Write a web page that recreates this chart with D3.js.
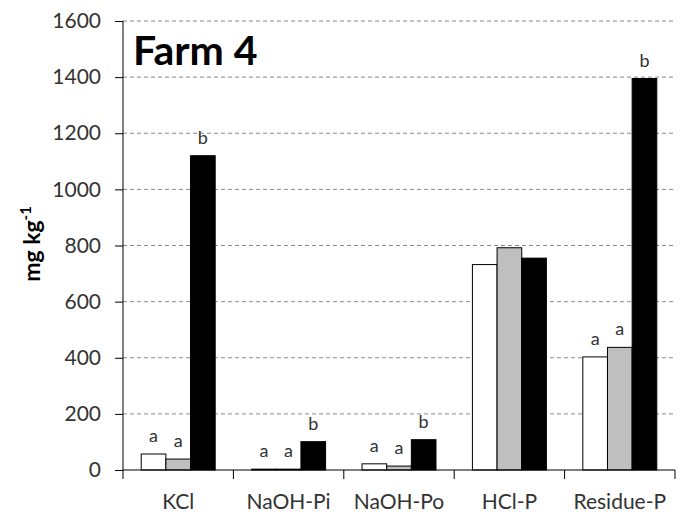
<!DOCTYPE html>
<html><head><meta charset="utf-8">
<script src="https://cdn.jsdelivr.net/npm/d3@7"></script>
<style>body{margin:0;background:#fff}</style>
</head><body><svg id="c" width="682" height="514"></svg>
<script>
const categories = ["KCl","NaOH-Pi","NaOH-Po","HCl-P","Residue-P"];
const series = ["s1","s2","s3"];
const values = {
  s1: [57, 3, 22, 732, 403],
  s2: [39, 3, 14, 792, 437],
  s3: [1120, 101, 108, 755, 1395]
};
const letters = {
  s1: ["a","a","a","","a"],
  s2: ["a","a","a","","a"],
  s3: ["b","b","b","","b"]
};
const yTicks = [0,200,400,600,800,1000,1200,1400,1600];
const colors = {s1:"#ffffff", s2:"#bfbfbf", s3:"#000000"};

const svg = d3.select("#c");
const m = {l:123, r:675, t:21, b:470};
const font = "Lato, 'Open Sans', sans-serif";
const y = d3.scaleLinear().domain([0,1600]).range([m.b, m.t]);
const x0 = d3.scaleBand().domain(categories).range([m.l, m.r]).paddingInner(0.33).paddingOuter(0.165);
const x1 = d3.scaleBand().domain(series).range([0, x0.bandwidth()]);
const xb = d3.scaleBand().domain(categories).range([m.l, m.r]);

// grid
svg.append("g").selectAll("line").data(yTicks.filter(d=>d>0)).join("line")
  .attr("x1", m.l).attr("x2", m.r).attr("y1", d=>y(d)).attr("y2", d=>y(d))
  .attr("stroke","#8a8a8a").attr("stroke-dasharray","4,3").attr("stroke-width",1);

// bars
const g = svg.append("g");
categories.forEach((c,i)=>{
  series.forEach(s=>{
    const v = values[s][i];
    g.append("rect")
      .attr("x", x0(c)+x1(s)).attr("width", x1.bandwidth())
      .attr("y", y(v)).attr("height", m.b - y(v))
      .attr("fill", colors[s]).attr("stroke","#000").attr("stroke-width",1);
    const L = letters[s][i];
    if (L) {
      g.append("text").attr("x", x0(c)+x1(s)+x1.bandwidth()/2).attr("y", y(v)-12)
        .attr("text-anchor","middle").attr("font-family",font).attr("font-size",18)
        .attr("fill","#333").text(L);
    }
  });
});

// y axis
const ya = svg.append("g").attr("transform",`translate(${m.l},0)`)
  .call(d3.axisLeft(y).tickValues(yTicks).tickFormat(d3.format("d")).tickSize(8).tickPadding(14));
ya.select(".domain").attr("stroke","#000").attr("d",`M0,${m.b}V${m.t}`);
ya.selectAll(".tick line").attr("stroke","#000");
ya.selectAll("text").attr("font-family",font).attr("font-size",21).attr("fill","#333");

// x axis
const xa = svg.append("g").attr("transform",`translate(0,${m.b})`);
xa.append("line").attr("x1",m.l).attr("x2",m.r).attr("stroke","#000");
const bounds = categories.map(c=>xb(c)).concat([m.r]);
xa.selectAll("line.t").data(bounds).join("line").attr("class","t")
  .attr("x1",d=>d).attr("x2",d=>d).attr("y1",0).attr("y2",9).attr("stroke","#000");
xa.selectAll("text").data(categories).join("text")
  .attr("x", d=>xb(d)+xb.bandwidth()/2).attr("y", 39)
  .attr("text-anchor","middle").attr("font-family",font).attr("font-size",21).attr("fill","#333")
  .text(d=>d);

// title
svg.append("text").attr("x",133).attr("y",65).attr("font-family",font).attr("font-weight","bold")
  .attr("font-size",41).attr("fill","#000").text("Farm 4");

// y label
const yl = svg.append("text").attr("transform","translate(40,244) rotate(-90)")
  .attr("text-anchor","middle").attr("font-family",font).attr("font-weight","bold")
  .attr("font-size",23).attr("fill","#000");
yl.append("tspan").text("mg kg");
yl.append("tspan").attr("dy",-9).attr("font-size",15).text("-1");
</script></body></html>
